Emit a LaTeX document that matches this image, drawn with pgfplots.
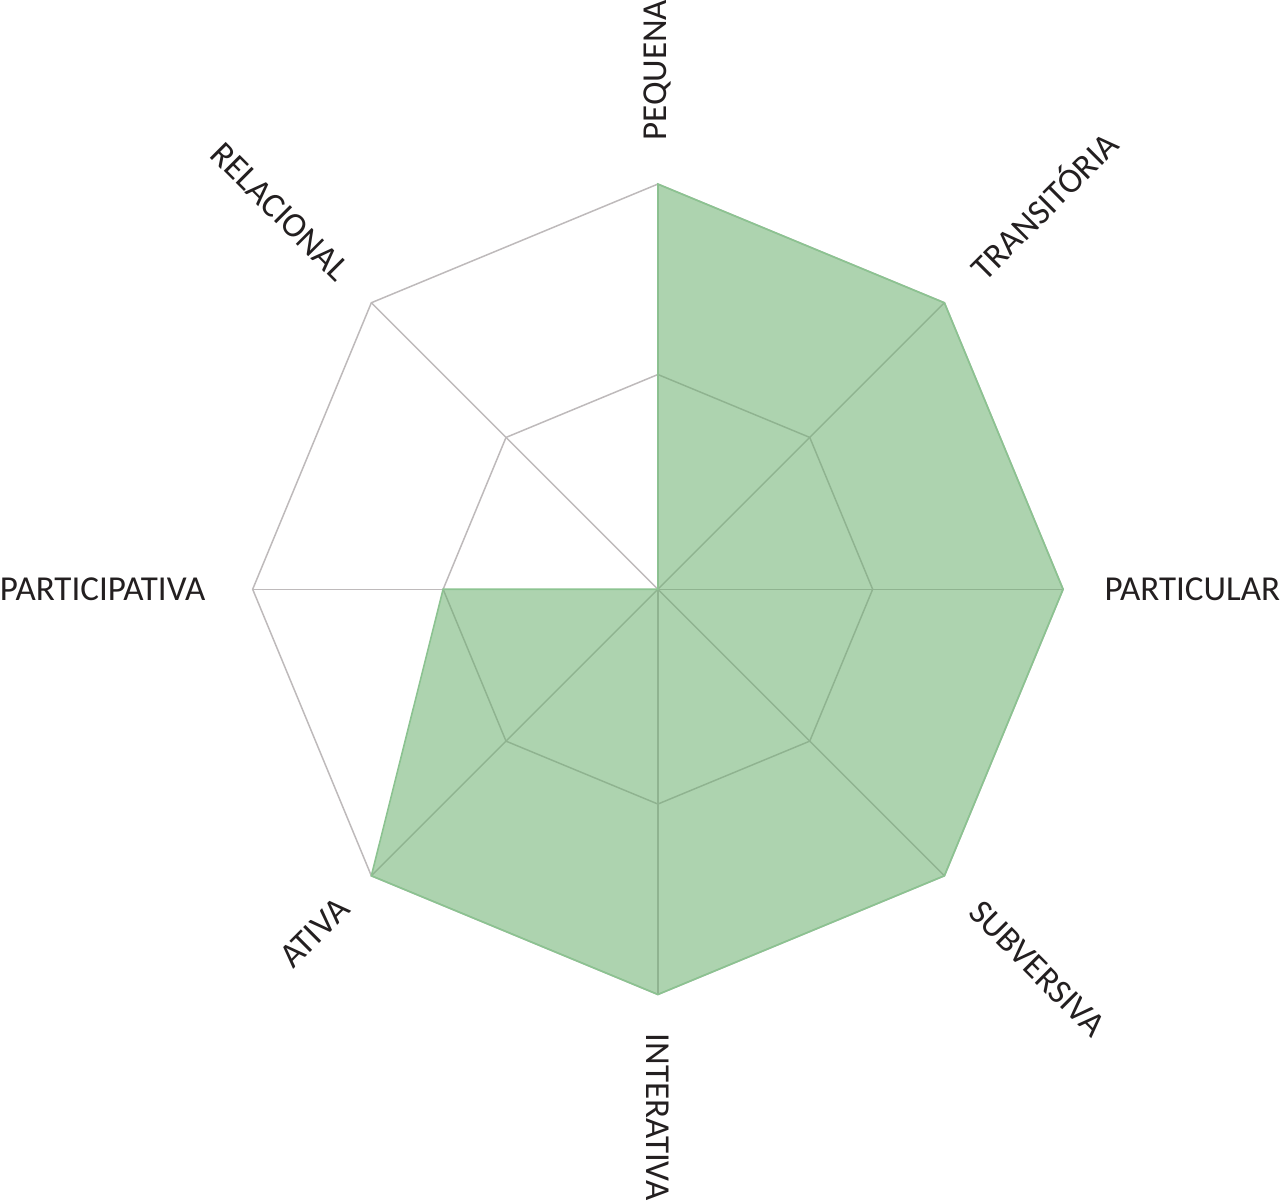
\documentclass[border=0pt]{standalone}
\usepackage{pgfplots}
\pgfplotsset{compat=1.18}
\usepackage{fontspec}
\setmainfont{Carlito}
\definecolor{gridgray}{RGB}{190,186,187}
\definecolor{fillgreen}{RGB}{106,175,110}
\definecolor{edgegreen}{RGB}{140,195,145}
\definecolor{labeltext}{RGB}{35,31,32}

\begin{document}
\begin{tikzpicture}
\begin{axis}[
  scale only axis, width=405pt, height=405pt,
  xmin=-1, xmax=1, ymin=-1, ymax=1,
  hide axis, clip=false,
]
% rings of the radar grid
\addplot[gridgray, line width=0.75pt, data cs=polar] coordinates {
  (90,1) (45,1) (0,1) (-45,1) (-90,1) (-135,1) (180,1) (135,1) (90,1)};
\addplot[gridgray, line width=0.75pt, data cs=polar] coordinates {
  (90,0.53) (45,0.53) (0,0.53) (-45,0.53) (-90,0.53) (-135,0.53) (180,0.53) (135,0.53) (90,0.53)};
% spokes
\addplot[gridgray, line width=0.75pt, data cs=polar] coordinates {(90,1) (-90,1)};
\addplot[gridgray, line width=0.75pt, data cs=polar] coordinates {(45,1) (-135,1)};
\addplot[gridgray, line width=0.75pt, data cs=polar] coordinates {(0,1) (180,1)};
\addplot[gridgray, line width=0.75pt, data cs=polar] coordinates {(135,1) (-45,1)};
% profile
\addplot[fill=fillgreen, fill opacity=0.55, draw=edgegreen, line width=0.8pt, data cs=polar] coordinates {
  (90,1) (45,1) (0,1) (-45,1) (-90,1) (-135,1) (180,0.53) (135,0)} --cycle;
% axis labels
\begin{scope}[every node/.style={inner sep=0pt, text=labeltext, font=\fontsize{17.5}{20}\selectfont}]
\path (axis cs:0,0) ++(90:224pt)   node[anchor=west, rotate=90]  {PEQUENA};
\path (axis cs:0,0) ++(45:224pt)   node[anchor=west, rotate=45]  {TRANSITÓRIA};
\path (axis cs:0,0) ++(0:223pt)    node[anchor=west]             {PARTICULAR};
\path (axis cs:0,0) ++(-45:224pt)  node[anchor=west, rotate=-45] {SUBVERSIVA};
\path (axis cs:0,0) ++(-90:222pt)  node[anchor=west, rotate=-90] {INTERATIVA};
\path (axis cs:0,0) ++(-135:222pt) node[anchor=east, rotate=45]  {ATIVA};
\path (axis cs:0,0) ++(180:226pt)  node[anchor=east]             {PARTICIPATIVA};
\path (axis cs:0,0) ++(135:222pt)  node[anchor=east, rotate=-45] {RELACIONAL};
\end{scope}
\end{axis}
\end{tikzpicture}
\end{document}
